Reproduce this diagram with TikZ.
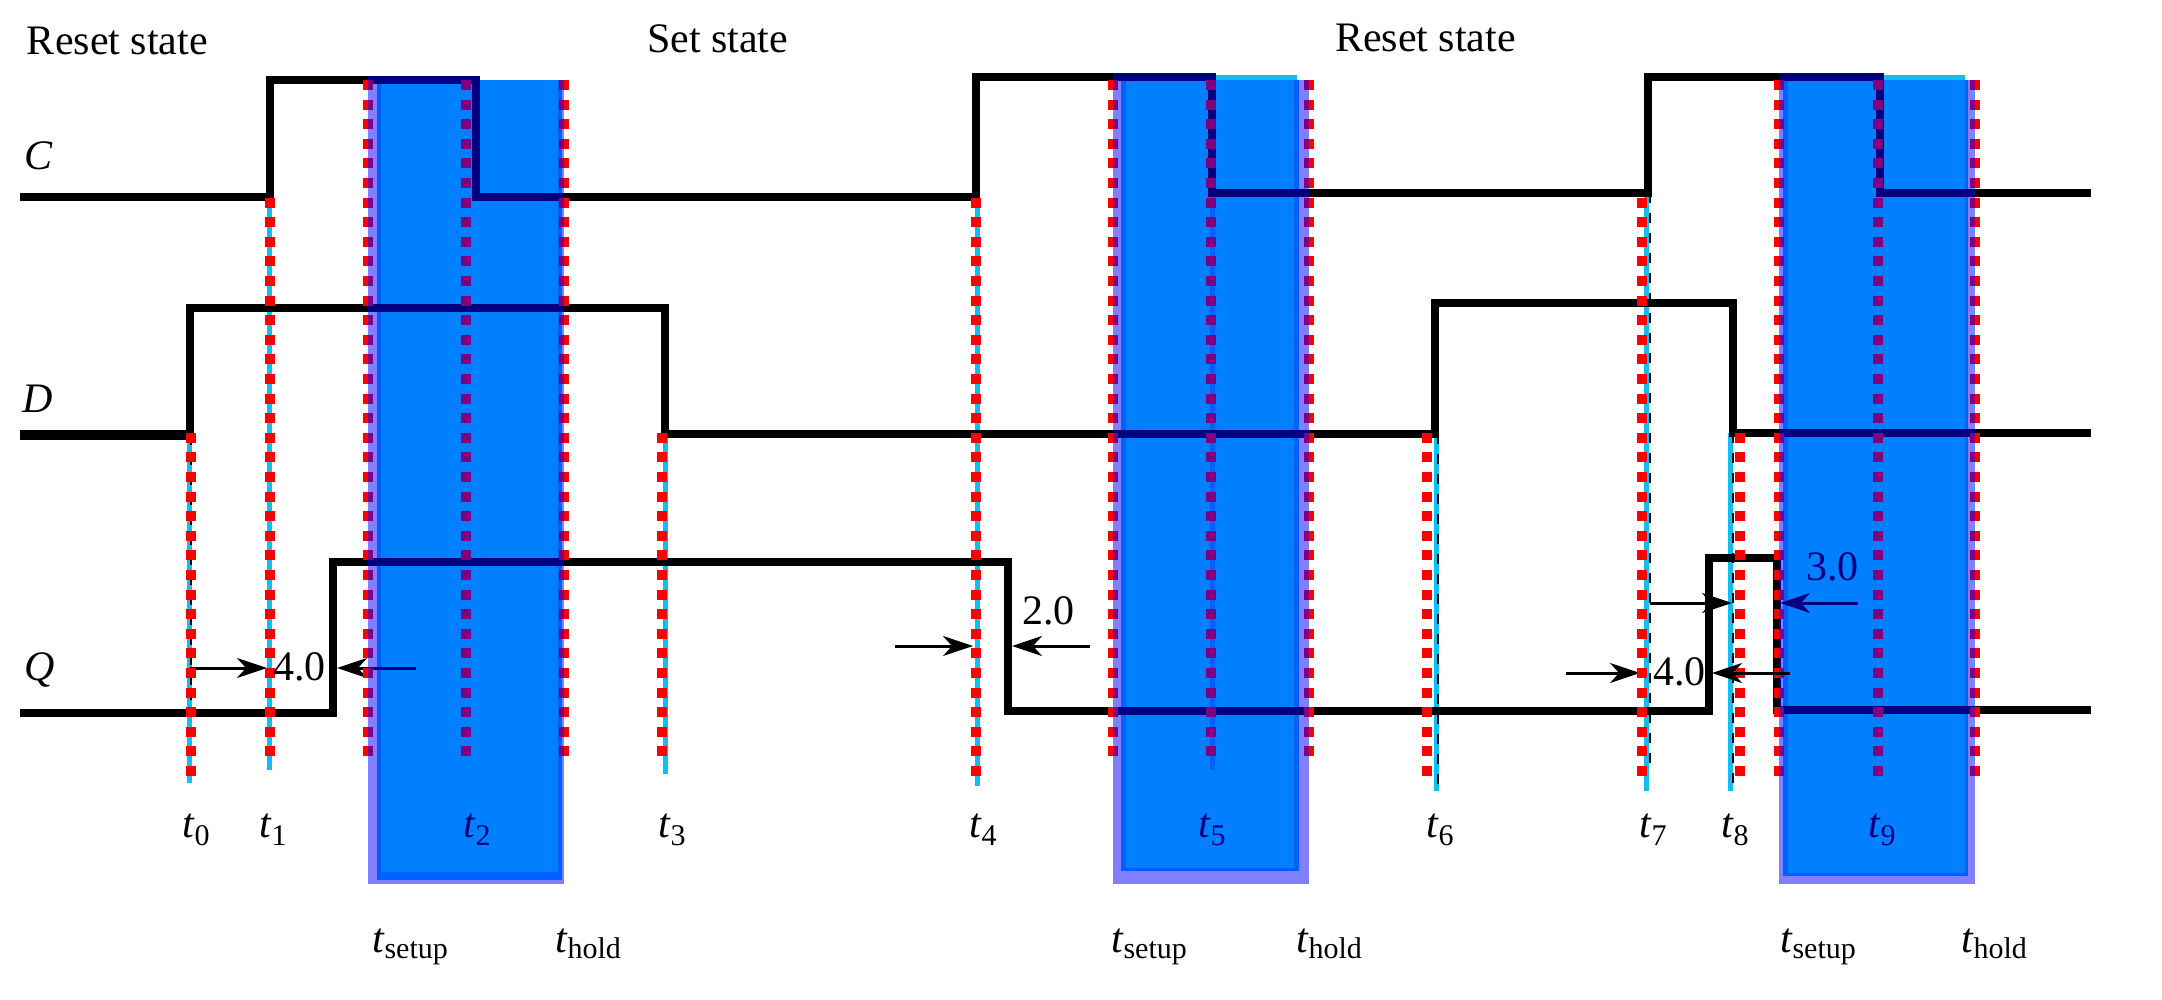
\documentclass[tikz,border=0pt]{standalone}
\usepackage{fontspec}
\setmainfont{Liberation Serif}
\usetikzlibrary{arrows.meta}
\definecolor{boxmain}{HTML}{0080FF}
\definecolor{boxmid}{HTML}{0060FF}
\definecolor{boxlight}{HTML}{8080FF}
\definecolor{darkline}{HTML}{000080}
\definecolor{plum}{HTML}{800080}
\definecolor{skyline}{HTML}{10BEF0}
\newcommand{\tlab}[1]{\textit{t}\raisebox{-8pt}{\fontsize{30}{30}\selectfont #1}}
\newcommand{\tsb}[1]{\textit{t}\raisebox{-6pt}{\fontsize{30}{30}\selectfont #1}}
\tikzset{
  txt/.style={inner sep=0pt,outer sep=0pt,anchor=base west,font=\fontsize{42}{42}\selectfont},
  sig/.style={line width=7.5pt,line join=miter},
  sigthick/.style={line width=10pt},
  reddash/.style={line width=10pt,dash pattern=on 10pt off 9.6pt},
  skyl/.style={skyline,line width=5pt},
  thindash/.style={black,line width=2pt,dash pattern=on 10pt off 10pt},
  dim/.style={line width=3pt,-{Stealth[length=30pt,width=20pt,inset=9pt]}}
}
\newcommand{\waves}[1]{%
  \draw[sig,#1] (20,197) -- (270,197) -- (270,80) -- (476,80) -- (476,197) -- (976,197) -- (976,77) -- (1212,77) -- (1212,193) -- (1648,193) -- (1648,77) -- (1880,77) -- (1880,193) -- (2091,193);
  \draw[sig,#1] (190,435) -- (190,308) -- (665,308) -- (665,434) -- (1435,434) -- (1435,303) -- (1733,303) -- (1733,433) -- (2091,433);
  \draw[sig,#1] (20,713) -- (333,713) -- (333,562) -- (1008,562) -- (1008,711) -- (1709,711) -- (1709,558) -- (1777,558) -- (1777,710) -- (2091,710);
}
\newcommand{\reds}[1]{%
  \foreach \x/\a/\b in {191/18/35,270/6/34,368/0/34,466/0/34,564/0/34,662/18/34,976/6/35,1113/0/34,1211/0/34,1309/0/34,1427/18/35,1642/6/35,1740/18/35,1779/0/35,1878/0/35,1975/0/35}
    \draw[reddash,#1] ({\x},{80+19.6*\a}) -- ({\x},{90+19.6*\b});
}
\newcommand{\dims}[1]{%
  \draw[dim,#1] (190,668) -- (267,668);
  \draw[dim,#1] (416,668) -- (337,668);
  \draw[dim,#1] (895,646) -- (973,646);
  \draw[dim,#1] (1090,646) -- (1012,646);
  \draw[dim,#1] (1566,673) -- (1640,673);
  \draw[dim,#1] (1650,603) -- (1732,603);
  \draw[dim,#1] (1858,603) -- (1780,603);
}
\begin{document}
\begin{tikzpicture}[x=1pt,y=-1pt]
\useasboundingbox (0,0) rectangle (2162,1000);
\fill[white] (0,0) rectangle (2162,1000);
% sky lines
\foreach \x/\a/\b in {189.5/435/783,269/197/770,665/434/774,977/197/786,1436/434/791,1646/193/791,1730/433/791}
  \draw[skyl] ({\x},{\a}) -- ({\x},{\b});
\draw[thindash] (1650,193) -- (1650,770);
\draw[thindash] (1438,434) -- (1438,790);
\draw[thindash] (1733,433) -- (1733,790);
\draw[thindash] (191,435) -- (191,700);
% waveforms
\waves{black}
\draw[sigthick] (20,435) -- (190,435);
\dims{black}
% top strips
\fill[skyline] (1213,75) rectangle (1297,81);
\fill[skyline] (1883,75) rectangle (1965,81);
% boxes
\fill[boxlight] (368,80) rectangle (564,884);
\fill[boxmid] (377,80) rectangle (562,880);
\fill[boxmain] (381,80) rectangle (558,872);
\fill[boxlight] (1113,80) rectangle (1309,884);
\fill[boxmid] (1121,80) rectangle (1299,871);
\fill[boxmain] (1126,80) rectangle (1294,868);
\fill[boxmid] (1209.5,197) rectangle (1215,770);
\fill[boxlight] (1779,80) rectangle (1975,884);
\fill[boxmid] (1783,80) rectangle (1968,876);
\fill[boxmain] (1788,80) rectangle (1965,873);
% dark copies inside the boxes
\begin{scope}
  \clip (368,70) rectangle (564,890) (1113,70) rectangle (1309,890) (1779,70) rectangle (1975,890);
  \waves{darkline}
  \dims{darkline}
\end{scope}
% red markers
\reds{red}
\begin{scope}
  \clip (368,70) rectangle (564,890) (1113,70) rectangle (1309,890) (1779,70) rectangle (1975,890);
  \reds{plum}
\end{scope}
\draw[dim,black] (1790,673) -- (1712,673);
% labels
\node[txt] (r1) at (27,55) {Reset state};
\node[txt] (s1) at (647,53) {Set state};
\node[txt] (r2) at (1335,52) {Reset state};
\node[txt] (lc) at (24,170) {\textit{C}};
\node[txt] (ld) at (22,412) {\textit{D}};
\node[txt] (lq) at (24,680) {\textit{Q}};
\node[txt] (v1) at (273,680) {4.0};
\node[txt] (v2) at (1022,624) {2.0};
\node[txt,text=darkline] (v3) at (1806,580) {3.0};
\node[txt] (v4) at (1653,685) {4.0};
\node[txt] (t0) at (182,837) {\tlab{0}};
\node[txt] (t1) at (259,837) {\tlab{1}};
\node[txt,text=darkline] (t2) at (463,837) {\tlab{2}};
\node[txt] (t3) at (658,837) {\tlab{3}};
\node[txt] (t4) at (969,837) {\tlab{4}};
\node[txt,text=darkline] (t5) at (1198,837) {\tlab{5}};
\node[txt] (t6) at (1426,837) {\tlab{6}};
\node[txt] (t7) at (1639,837) {\tlab{7}};
\node[txt] (t8) at (1721,837) {\tlab{8}};
\node[txt,text=darkline] (t9) at (1868,837) {\tlab{9}};
\node[txt] (su1) at (372,952) {\tsb{setup}};
\node[txt] (ho1) at (555,952) {\tsb{hold}};
\node[txt] (su2) at (1111,952) {\tsb{setup}};
\node[txt] (ho2) at (1296,952) {\tsb{hold}};
\node[txt] (su3) at (1780,952) {\tsb{setup}};
\node[txt] (ho3) at (1961,952) {\tsb{hold}};
\end{tikzpicture}
\end{document}
